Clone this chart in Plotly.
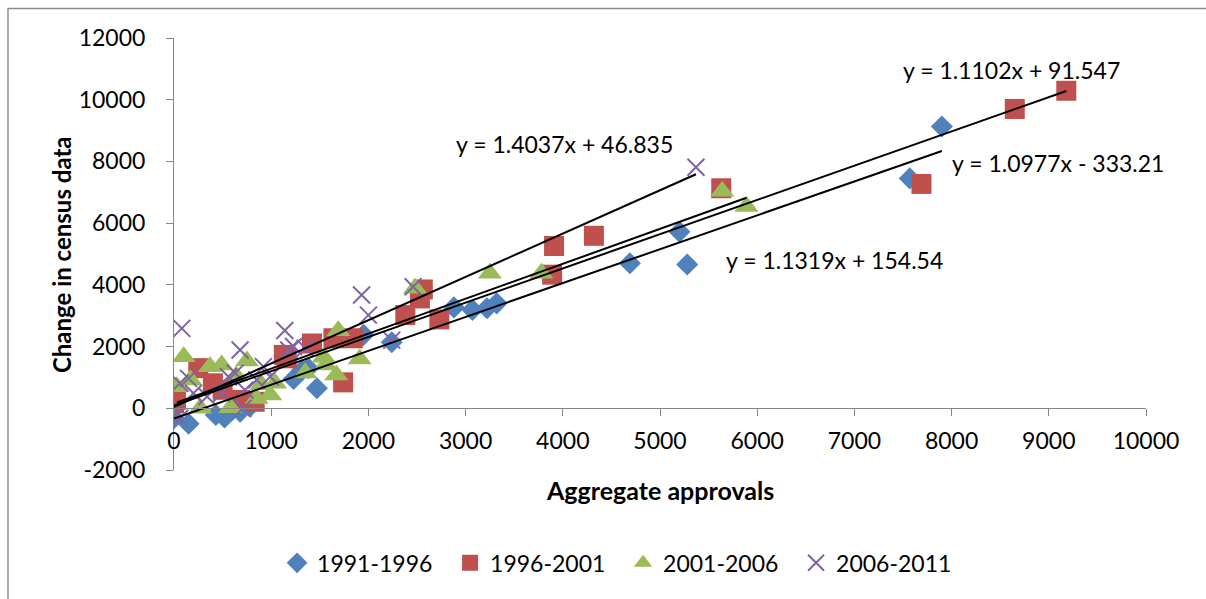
import plotly.graph_objects as go

# Census change vs aggregate approvals, four census periods
periods = ["1991-1996", "1996-2001", "2001-2006", "2006-2011"]

blue_x = [0, 150, 430, 520, 600, 680, 780, 1230, 1320, 1380, 1470, 1950, 2240, 2880, 3070, 3220, 3320, 4690, 5200, 5280, 7570, 7900]
blue_y = [-320, -500, -220, -300, -50, -110, 50, 950, 1240, 1300, 650, 2380, 2140, 3270, 3190, 3240, 3400, 4700, 5720, 4660, 7450, 9130]

red_x = [0, 20, 250, 400, 500, 680, 830, 1130, 1160, 1420, 1640, 1740, 1840, 2380, 2530, 2560, 2730, 3890, 3910, 4320, 5630, 7690, 8650, 9180]
red_y = [160, 270, 1300, 810, 600, 270, 210, 1730, 1620, 2100, 2270, 840, 2270, 3020, 3560, 3850, 2880, 4330, 5260, 5590, 7130, 7270, 9700, 10290]

green_x = [30, 100, 170, 270, 370, 490, 580, 640, 750, 850, 900, 990, 1040, 1350, 1540, 1560, 1670, 1690, 1910, 2480, 3250, 3780, 5640, 5890]
green_y = [700, 1670, 920, 0, 1350, 1400, 20, 1050, 1530, 320, 760, 430, 810, 1140, 1650, 1400, 1080, 2510, 1600, 3890, 4380, 4380, 7030, 6540]

purple_x = [0, 60, 60, 80, 150, 200, 340, 490, 560, 630, 680, 710, 730, 850, 920, 990, 1140, 1180, 1230, 1350, 1930, 2000, 2240, 2460, 5370]
purple_y = [-220, -320, 810, 2590, 970, 490, 380, 490, 1020, 1140, 1890, 0, 590, 920, 1350, 1020, 2520, 1890, 2000, 1950, 3670, 3020, 2210, 3940, 7810]

# Axis ticks
x_ticks = [0, 1000, 2000, 3000, 4000, 5000, 6000, 7000, 8000, 9000, 10000]
y_ticks = [-2000, 0, 2000, 4000, 6000, 8000, 10000, 12000]

# Linear trendline coefficients (slope, intercept)
slopes = [1.0977, 1.1102, 1.1319, 1.4037]
intercepts = [-333.21, 91.547, 154.54, 46.835]
eq_labels = ["y = 1.0977x - 333.21", "y = 1.1102x + 91.547", "y = 1.1319x + 154.54", "y = 1.4037x + 46.835"]

colors = ["#4F81BD", "#C0504D", "#9BBB59", "#8064A2"]
FONT = "Lato, 'Open Sans', sans-serif"
FS = 23

xs = [blue_x, red_x, green_x, purple_x]
ys = [blue_y, red_y, green_y, purple_y]

fig = go.Figure()

markers = [
    dict(symbol="diamond", size=17, color=colors[0]),
    dict(symbol="square", size=20, color=colors[1]),
    dict(symbol="triangle-up", size=21, color=colors[2]),
    dict(symbol="x-thin", size=17, color=colors[3], line=dict(color=colors[3], width=2)),
]

for name, x, y, m in zip(periods, xs, ys, markers):
    fig.add_trace(go.Scatter(x=x, y=y, mode="markers", name=name, marker=m))

# Trendlines over each series' x range
for x, a, b in zip(xs, slopes, intercepts):
    x0, x1 = min(x), max(x)
    fig.add_trace(go.Scatter(
        x=[x0, x1], y=[a * x0 + b, a * x1 + b], mode="lines",
        line=dict(color="black", width=2), showlegend=False, hoverinfo="skip",
    ))

# Equation labels placed near the end of each trendline
label_pos = [(9090, 7950), (8620, 10970), (6800, 4820), (4020, 8570)]
annotations = []
for (lx, ly), txt in zip(label_pos, eq_labels):
    annotations.append(dict(x=lx, y=ly, xref="x", yref="y", text=txt, showarrow=False,
                            font=dict(family=FONT, size=FS, color="black")))

annotations.append(dict(x=0.5, y=-0.008, xref="paper", yref="paper", yanchor="top",
                        text="<b>Aggregate approvals</b>", showarrow=False,
                        font=dict(family=FONT, size=FS + 2, color="black")))
annotations.append(dict(x=-0.115, y=0.498, xref="paper", yref="paper", xanchor="center",
                        text="<b>Change in census data</b>", showarrow=False, textangle=-90,
                        font=dict(family=FONT, size=FS + 1, color="black")))

axis_color = "#868686"
fig.update_layout(
    width=1206, height=599,
    margin=dict(l=174, r=60, t=38, b=129),
    paper_bgcolor="white", plot_bgcolor="white",
    font=dict(family=FONT, size=FS, color="black"),
    xaxis=dict(range=[0, 10000], tickmode="array", tickvals=x_ticks,
               ticktext=[str(v) for v in x_ticks],
               showgrid=False, zeroline=False,
               showline=True, linecolor=axis_color, linewidth=1,
               ticks="outside", ticklen=7, tickcolor=axis_color,
               anchor="free", position=2000 / 14000, ticklabelstandoff=5,
               tickfont=dict(family=FONT, size=FS, color="black")),
    yaxis=dict(range=[-2000, 12000], tickmode="array", tickvals=y_ticks,
               ticktext=[str(v) for v in y_ticks],
               showgrid=False, zeroline=False,
               showline=True, linecolor=axis_color, linewidth=1,
               ticks="outside", ticklen=7, tickcolor=axis_color,
               ticklabelstandoff=16, domain=[0, 1],
               tickfont=dict(family=FONT, size=FS, color="black")),
    legend=dict(orientation="h", x=0.462, xanchor="center", y=-0.215, yanchor="middle",
                font=dict(family=FONT, size=FS, color="black"),
                entrywidth=128, entrywidthmode="pixels", itemwidth=30),
    annotations=annotations,
    shapes=[dict(type="rect", xref="paper", yref="paper",
                 x0=-0.1708, x1=1.075, y0=-0.33, y1=1.068,
                 line=dict(color="#8C8C8C", width=1.5), fillcolor="rgba(0,0,0,0)")],
)

fig.write_html("out.html")
